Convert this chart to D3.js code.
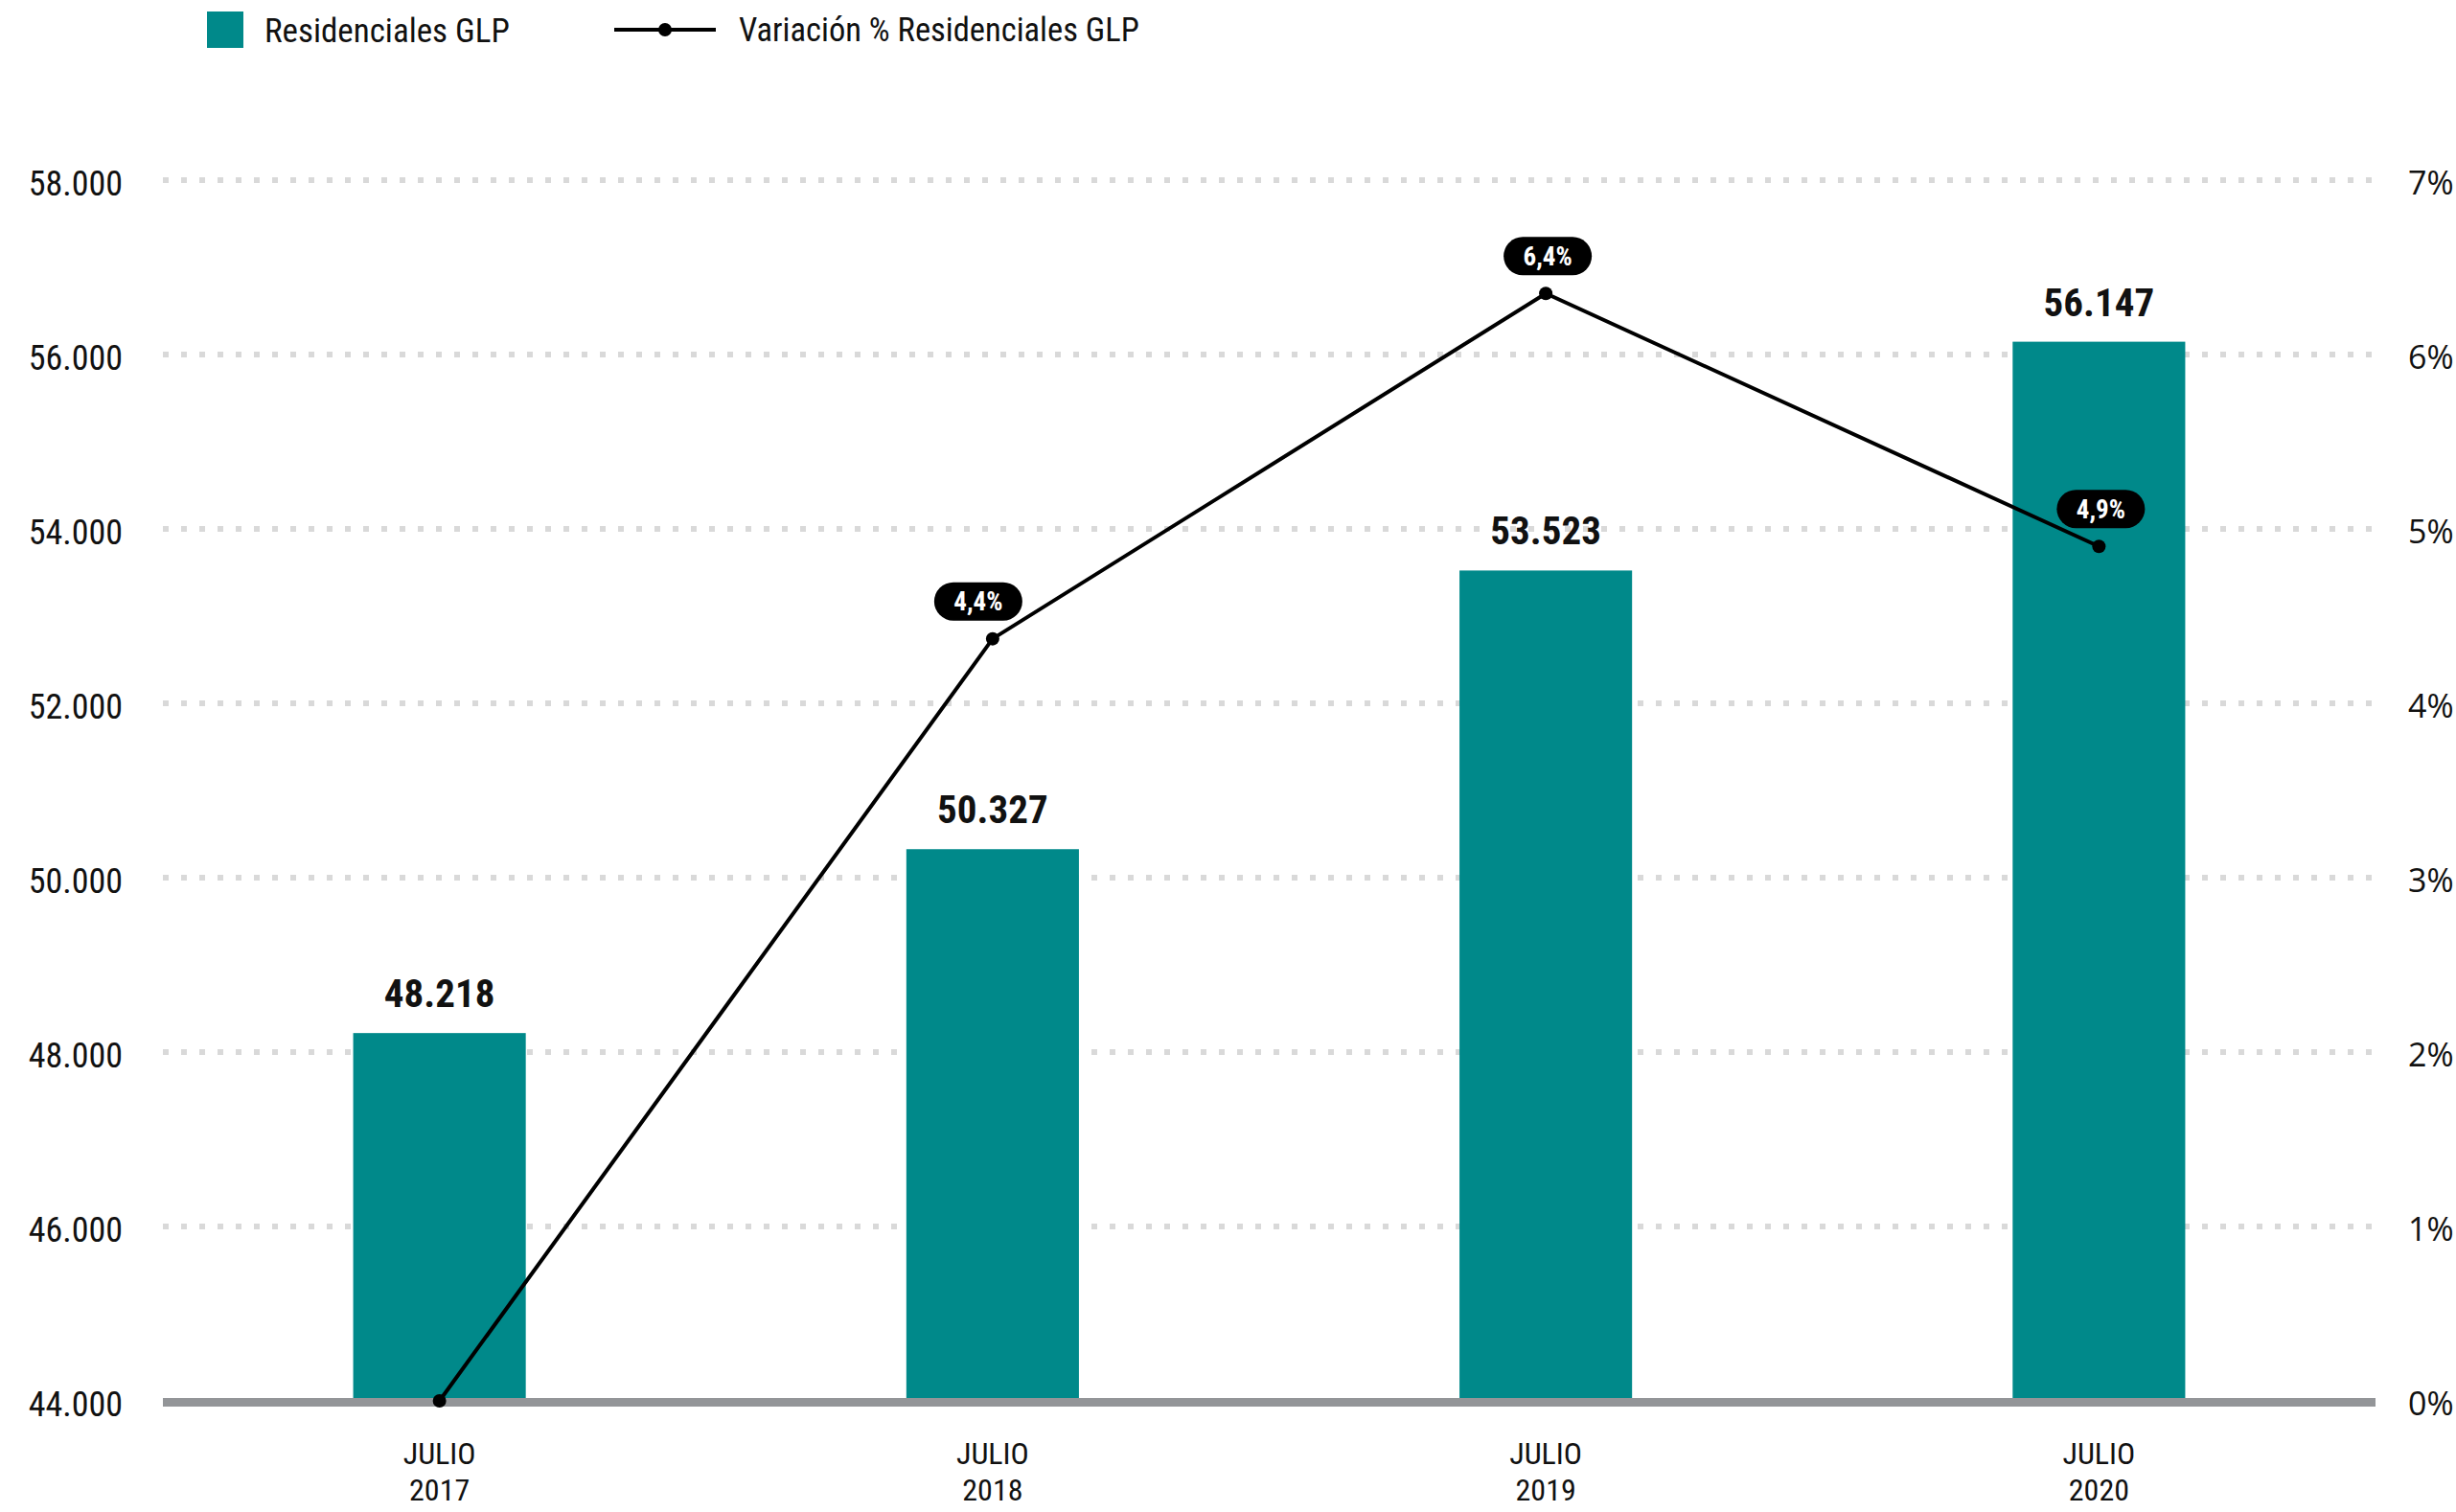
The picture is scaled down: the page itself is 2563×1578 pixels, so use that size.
<!DOCTYPE html>
<html>
<head>
<meta charset="utf-8">
<script src="https://cdn.jsdelivr.net/npm/d3@7"></script>
<style>
  html, body { margin: 0; padding: 0; background: #fff; }
  svg { display: block; }
</style>
</head>
<body>
<svg id="chart" width="2563" height="1578"></svg>
<script>
const categories = ["JULIO 2017", "JULIO 2018", "JULIO 2019", "JULIO 2020"];
const residenciales = [48218, 50327, 53523, 56147];
const variacion = [0, 4.37, 6.35, 4.90];
const variacionLabels = [null, "4,4%", "6,4%", "4,9%"];
const valueLabels = ["48.218", "50.327", "53.523", "56.147"];
const leftTicks = [44000, 46000, 48000, 50000, 52000, 54000, 56000, 58000];
const rightTicks = [0, 1, 2, 3, 4, 5, 6, 7];
const seriesNames = ["Residenciales GLP", "Variación % Residenciales GLP"];

const TEAL = "#00898a";
const svg = d3.select("#chart");
const condFont = '"Roboto Condensed", "Liberation Sans Narrow", "Arial Narrow", Roboto, sans-serif';

const x = d3.scaleBand().domain(categories).range([170, 2479]).paddingInner(0).paddingOuter(0);
const y = d3.scaleLinear().domain([44000, 58000]).range([1462, 188]);
const y2 = d3.scaleLinear().domain([0, 7]).range([1462, 188]);
const barW = x.bandwidth() * 0.312;
const cx = c => x(c) + x.bandwidth() / 2;

const fmtThousands = d3.formatLocale({decimal: ",", thousands: ".", grouping: [3], currency: ["", ""]}).format(",.0f");

// gridlines
svg.append("g").selectAll("line").data(leftTicks.filter(t => t !== 44000)).join("line")
  .attr("x1", 170).attr("x2", 2479)
  .attr("y1", d => y(d)).attr("y2", d => y(d))
  .attr("stroke", "#d9d9d9").attr("stroke-width", 6)
  .attr("stroke-dasharray", "6 13");

// left axis
const leftAxis = d3.axisLeft(y).tickValues(leftTicks).tickSize(0).tickPadding(0).tickFormat(fmtThousands);
const gl = svg.append("g").attr("transform", "translate(128,0)").call(leftAxis);
gl.select(".domain").remove();
gl.selectAll("text").attr("font-family", condFont).attr("font-size", 36).attr("fill", "#111").attr("dy", "0.42em");

// right axis
const rightAxis = d3.axisRight(y2).tickValues(rightTicks).tickSize(0).tickPadding(0).tickFormat(d => d + "%");
const gr = svg.append("g").attr("transform", "translate(2513,0)").call(rightAxis);
gr.select(".domain").remove();
gr.selectAll("text").attr("font-family", '"Open Sans", "Noto Sans", sans-serif').attr("font-size", 34).attr("fill", "#111").attr("dy", "0.42em");

// bars
svg.append("g").selectAll("rect").data(categories).join("rect")
  .attr("x", (c) => cx(c) - barW / 2)
  .attr("width", barW)
  .attr("y", (c, i) => y(residenciales[i]))
  .attr("height", (c, i) => y(44000) - y(residenciales[i]))
  .attr("fill", TEAL);

// baseline
svg.append("line").attr("x1", 170).attr("x2", 2479).attr("y1", 1463.5).attr("y2", 1463.5)
  .attr("stroke", "#939598").attr("stroke-width", 9);

// bar value labels
svg.append("g").selectAll("text").data(categories).join("text")
  .attr("x", c => cx(c)).attr("y", (c, i) => y(residenciales[i]) - 27)
  .attr("text-anchor", "middle").attr("font-family", condFont).attr("font-weight", "bold")
  .attr("font-size", 41).attr("fill", "#111")
  .text((c, i) => valueLabels[i]);

// x axis labels
const xl = svg.append("g").selectAll("text").data(categories).join("text")
  .attr("text-anchor", "middle").attr("font-family", condFont).attr("font-size", 32).attr("fill", "#111");
xl.append("tspan").attr("x", c => cx(c)).attr("y", 1528).text(c => c.split(" ")[0]);
xl.append("tspan").attr("x", c => cx(c)).attr("y", 1566).text(c => c.split(" ")[1]);

// line
const line = d3.line().x((d, i) => cx(categories[i])).y(d => y2(d));
svg.append("path").datum(variacion).attr("d", line).attr("fill", "none")
  .attr("stroke", "#000").attr("stroke-width", 4);
svg.append("g").selectAll("circle").data(variacion).join("circle")
  .attr("cx", (d, i) => cx(categories[i])).attr("cy", d => y2(d)).attr("r", 7).attr("fill", "#000");

// pill labels (shifted left when the line continues upward to the right)
const pillData = variacion.map((v, i) => ({v, i})).filter(d => variacionLabels[d.i]);
const pills = svg.append("g").selectAll("g").data(pillData).join("g")
  .attr("transform", d => {
    const next = variacion[d.i + 1];
    const dx = (next !== undefined && next > d.v) ? -15 : 2;
    return `translate(${cx(categories[d.i]) + dx},${y2(d.v) - 39})`;
  });
pills.append("rect").attr("x", -46).attr("y", -20).attr("width", 92).attr("height", 40).attr("rx", 20).attr("fill", "#000");
pills.append("text").attr("text-anchor", "middle").attr("dy", "0.36em")
  .attr("font-family", condFont).attr("font-weight", "bold").attr("font-size", 27).attr("fill", "#fff")
  .text(d => variacionLabels[d.i]);

// legend
const lg = svg.append("g");
lg.append("rect").attr("x", 216).attr("y", 12).attr("width", 38).attr("height", 38).attr("fill", TEAL);
lg.append("text").attr("x", 276).attr("y", 31).attr("dy", "0.36em").attr("font-family", condFont)
  .attr("font-size", 35).attr("fill", "#111").text(seriesNames[0]);
lg.append("line").attr("x1", 641).attr("x2", 747).attr("y1", 31).attr("y2", 31).attr("stroke", "#000").attr("stroke-width", 4);
lg.append("circle").attr("cx", 694).attr("cy", 31).attr("r", 7).attr("fill", "#000");
lg.append("text").attr("x", 771).attr("y", 31).attr("dy", "0.36em").attr("font-family", condFont)
  .attr("font-size", 34.5).attr("fill", "#111").text(seriesNames[1]);
</script>
</body>
</html>
